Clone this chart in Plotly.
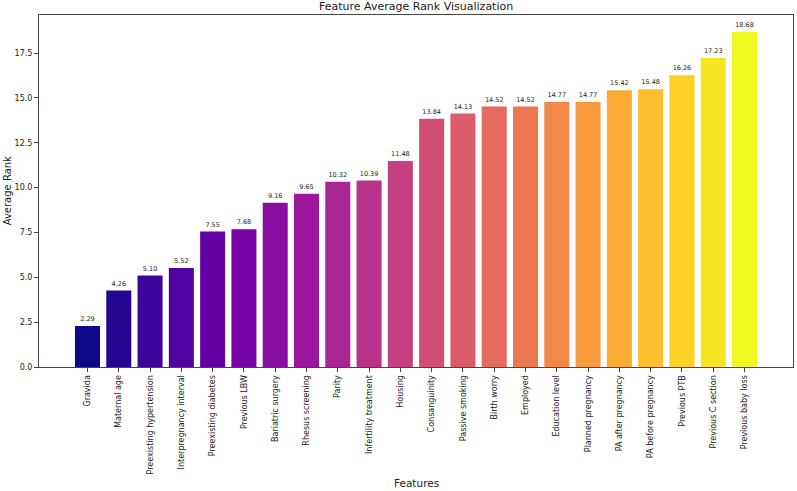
import plotly.graph_objects as go
from plotly.colors import sample_colorscale

features = ["Gravida", "Maternal age", "Preexisting hypertension", "Interpregnancy interval",
            "Preexisting diabetes", "Previous LBW", "Bariatric surgery", "Rhesus screening",
            "Parity", "Infertility treatment", "Housing", "Consanguinity", "Passive smoking",
            "Birth worry", "Employed", "Education level", "Planned pregnancy",
            "PA after pregnancy", "PA before pregnancy", "Previous PTB", "Previous C section",
            "Previous baby loss"]
avg_rank = [2.29, 4.26, 5.10, 5.52, 7.55, 7.68, 9.16, 9.65, 10.32, 10.39, 11.48, 13.84,
            14.13, 14.52, 14.52, 14.77, 14.77, 15.42, 15.48, 16.26, 17.23, 18.68]
ytick_vals = [0, 2.5, 5.0, 7.5, 10.0, 12.5, 15.0, 17.5]

n = len(features)
colors = sample_colorscale("Plasma", [i / (n - 1) for i in range(n)])

font = "DejaVu Sans, sans-serif"
fig = go.Figure(go.Bar(
    x=list(range(n)), y=avg_rank, marker=dict(color=colors, line=dict(width=0)),
    width=0.8, texttemplate="%{y:.2f}", textposition="outside", textangle=0,
    textfont=dict(size=6.5, color="#222", family=font), cliponaxis=False,
))

axis_common = dict(showline=True, linecolor="#444", linewidth=1, mirror=True,
                   ticks="outside", ticklen=4, tickcolor="#444", showgrid=False,
                   zeroline=False, automargin=False, tickfont=dict(size=8, color="#222"))

fig.update_layout(
    width=797, height=491, margin=dict(l=39, r=4, t=15, b=124),
    paper_bgcolor="white", plot_bgcolor="white", showlegend=False,
    font=dict(family=font, color="#222"),
    xaxis=dict(range=[-1.55, n - 1 + 1.55], tickmode="array", tickvals=list(range(n)),
               ticktext=features, tickangle=-90, **axis_common),
    yaxis=dict(range=[0, 19.62], tickvals=ytick_vals, tickformat=".1f", **axis_common),
    annotations=[
        dict(text="Feature Average Rank Visualization", xref="paper", yref="paper",
             x=0.5, y=1.023, xanchor="center", yanchor="middle", showarrow=False,
             font=dict(size=11)),
        dict(text="Average Rank", xref="paper", yref="paper", x=-0.042, y=0.5,
             xanchor="center", yanchor="middle", textangle=-90, showarrow=False,
             font=dict(size=10)),
        dict(text="Features", xref="paper", yref="paper", x=0.5, y=-0.33,
             xanchor="center", yanchor="middle", showarrow=False, font=dict(size=10.5)),
    ],
)
# remove the browser's default 8px page margin so the figure fills the window
fig.write_html("out.html", config={"displayModeBar": False},
               post_script="document.body.style.margin='0';")
